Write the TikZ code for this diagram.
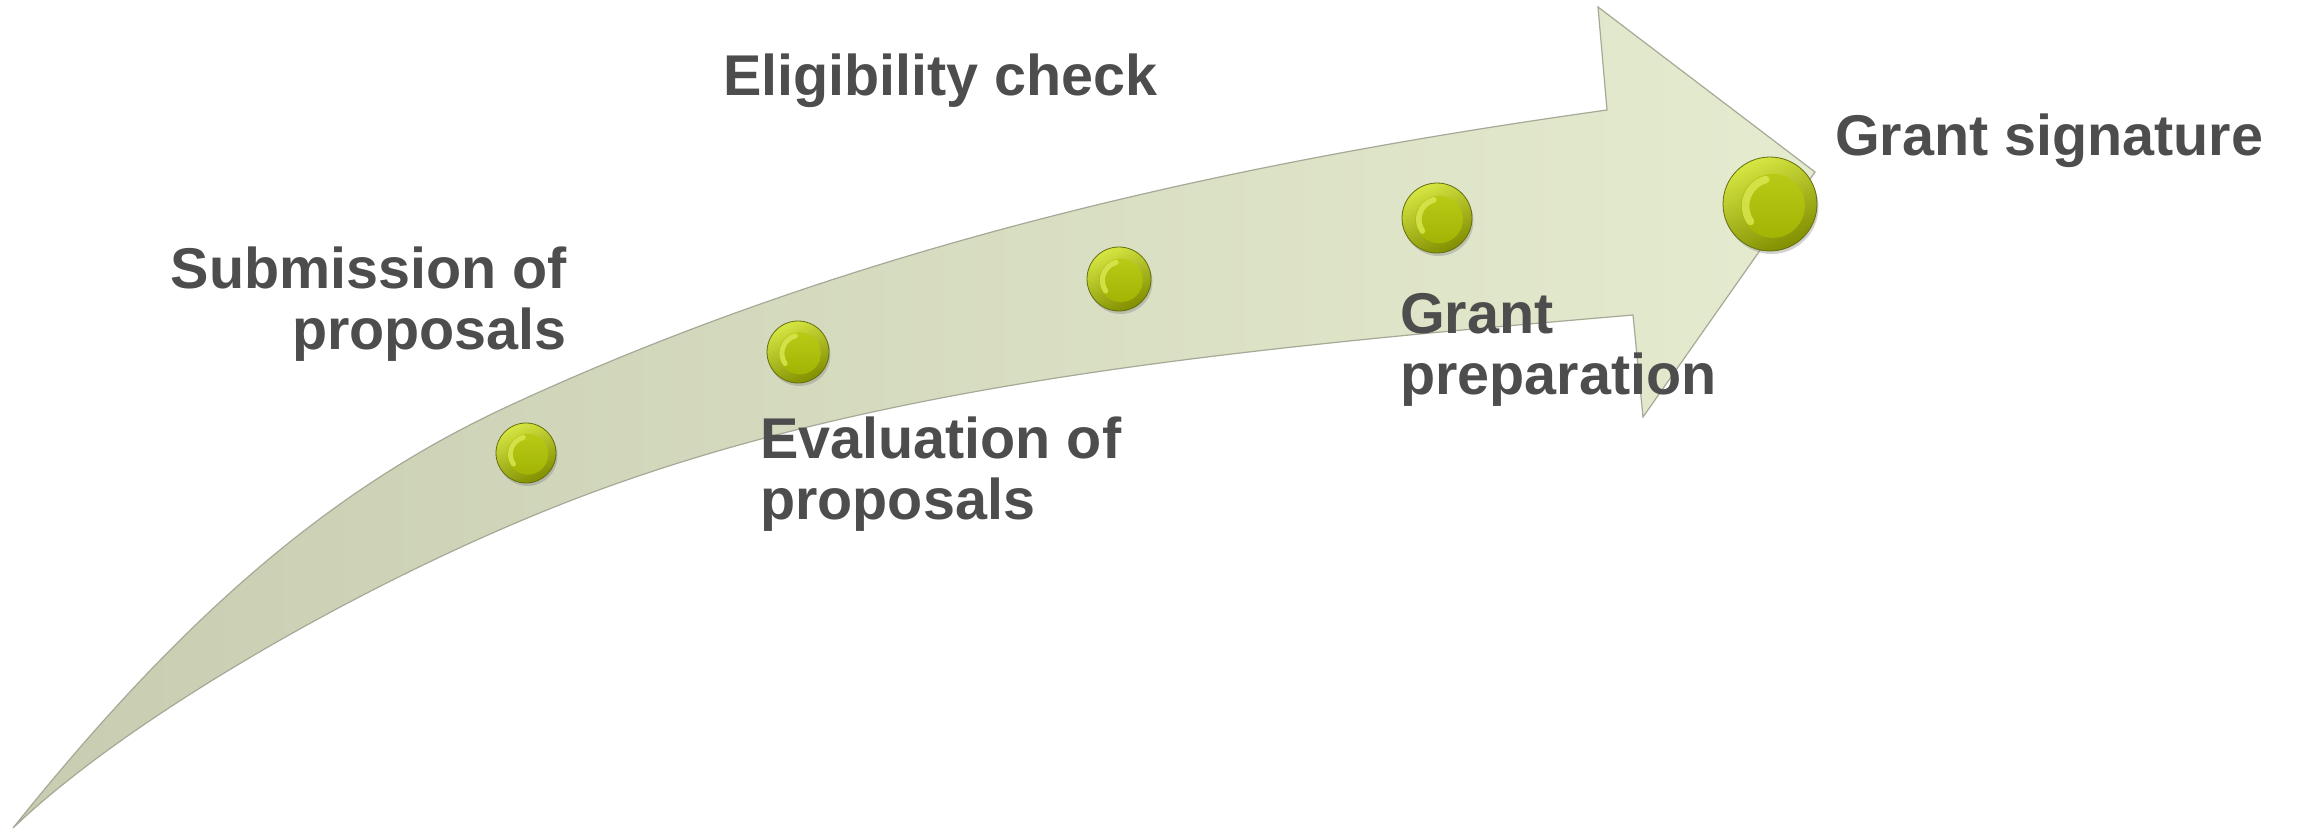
\documentclass[tikz,border=0pt]{standalone}
\usepackage{fontspec}
\setmainfont{Liberation Sans}
\usetikzlibrary{shadows}
\definecolor{txt}{RGB}{77,77,77}
\definecolor{arrL}{RGB}{200,205,178}
\definecolor{arrR}{RGB}{229,235,207}
\definecolor{arrEdge}{RGB}{165,169,150}
\definecolor{dotHi}{RGB}{214,230,66}
\definecolor{dotLo}{RGB}{128,142,0}
\definecolor{dotIn}{RGB}{180,198,10}
\definecolor{dotInLo}{RGB}{158,176,0}
\definecolor{dotEdge}{RGB}{100,110,15}
\definecolor{dotShine}{RGB}{222,236,90}
\begin{document}
\begin{tikzpicture}[x=1pt,y=1pt,
  lbl/.style={text=txt, inner sep=0pt, font=\fontsize{57.5}{61}\selectfont\bfseries},
  arrowbody/.style={draw=arrEdge, line width=1.2pt, left color=arrL, right color=arrR, line join=miter},
  gdot/.style={circle, inner sep=0pt, outer sep=0pt, minimum size=#1*2pt,
    draw=dotEdge, line width=0.8pt, top color=dotHi, bottom color=dotLo, shading angle=25,
    drop shadow={shadow xshift=1.5pt, shadow yshift=-3pt, opacity=0.35},
    path picture={
      \shade[top color=dotIn!70!dotHi, bottom color=dotInLo]
        ([xshift=#1*0.06pt, yshift=-#1*0.04pt]path picture bounding box.center) circle[radius=#1*0.68pt];
      \draw[dotShine, line width=#1*0.16pt, opacity=0.75, line cap=round]
        ([xshift=#1*0.06pt, yshift=-#1*0.04pt]path picture bounding box.center) ++(105:#1*0.58pt)
        arc[start angle=105, end angle=215, radius=#1*0.58pt];
    }},
]
\useasboundingbox (0,0) rectangle (2305,-831);
\fill[white] (0,0) rectangle (2305,-831);

% curved arrow
\path[arrowbody]
  (13,-828) .. controls (193,-603) and (343,-482) .. (513,-404)
  .. controls (873,-238) and (1257,-159) .. (1607,-110)
  -- (1598,-7) -- (1815,-172) -- (1643,-417) -- (1633,-315)
  .. controls (1233,-349) and (880,-383) .. (580,-497)
  .. controls (380,-573) and (133,-713) .. (13,-828)
  -- cycle;

% milestones
\node[gdot=30] (d1) at (526,-453) {};
\node[gdot=31] (d2) at (798,-352) {};
\node[gdot=32] (d3) at (1119,-279) {};
\node[gdot=35] (d4) at (1437,-218) {};
\node[gdot=47] (d5) at (1770,-204) {};

% labels
\node[lbl, anchor=base east] (l1) at (567,-288) {\begin{tabular}[t]{@{}r@{}}Submission of\\proposals\end{tabular}};
\node[lbl, anchor=base west] (l2) at (723,-95) {Eligibility check};
\node[lbl, anchor=base west] (l3) at (760,-458) {\begin{tabular}[t]{@{}l@{}}Evaluation of\\proposals\end{tabular}};
\node[lbl, anchor=base west] (l4) at (1400,-333) {\begin{tabular}[t]{@{}l@{}}Grant\\preparation\end{tabular}};
\node[lbl, anchor=base west] (l5) at (1835,-155) {Grant signature};
\end{tikzpicture}
\end{document}
